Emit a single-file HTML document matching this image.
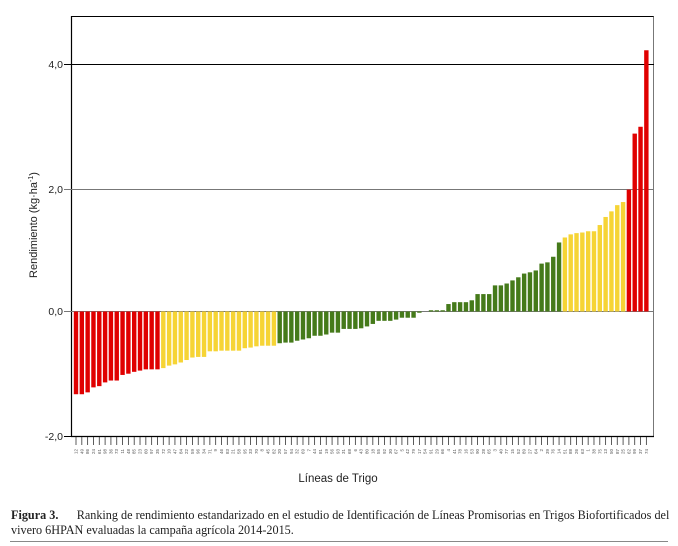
<!DOCTYPE html>
<html><head><meta charset="utf-8"><style>
html,body{margin:0;padding:0;background:#fff;width:678px;height:546px;overflow:hidden}
svg{display:block}
.cap{position:absolute;left:11px;top:508px;width:660px;font-family:"Liberation Serif",serif;font-size:12.2px;line-height:14.5px;color:#222}
</style></head><body>
<svg id="s" width="678" height="546" xmlns="http://www.w3.org/2000/svg" font-family="Liberation Sans, sans-serif">
<rect x="71.5" y="16.5" width="582" height="420" fill="none" stroke="#777" stroke-width="1"/>
<line x1="71.5" y1="16.5" x2="653.5" y2="16.5" stroke="#000"/>
<line x1="71.5" y1="16" x2="71.5" y2="437" stroke="#000" stroke-width="1.2"/>
<line x1="71" y1="436.5" x2="654" y2="436.5" stroke="#000" stroke-width="1.2"/>
<line x1="64" y1="64.5" x2="654" y2="64.5" stroke="#000" stroke-width="1"/>
<line x1="64" y1="189.5" x2="654" y2="189.5" stroke="#777" stroke-width="1"/>
<line x1="64" y1="311.5" x2="654" y2="311.5" stroke="#777" stroke-width="1"/>
<line x1="64" y1="436.5" x2="71" y2="436.5" stroke="#000"/>
<g font-size="10.5" fill="#222" text-anchor="end">
<text x="63" y="68">4,0</text><text x="63" y="193">2,0</text><text x="63" y="315">0,0</text><text x="63" y="440">-2,0</text>
</g>
<text transform="translate(37,225) rotate(-90)" font-size="11" text-anchor="middle" fill="#222">Rendimiento (kg·ha<tspan font-size="7" dy="-4">-1</tspan><tspan dy="4">)</tspan></text>
<text x="338" y="482" font-size="11.5" text-anchor="middle" fill="#222">Líneas de Trigo</text>
<g id="bars"></g>
<line x1="10" y1="541.5" x2="668" y2="541.5" stroke="#888" stroke-width="1"/>
</svg>
<div class="cap"><b>Figura 3.</b>&nbsp;&nbsp;&nbsp;&nbsp;&nbsp;&nbsp;Ranking de rendimiento estandarizado en el estudio de Identificación de Líneas Promisorias en Trigos Biofortificados del vivero 6HPAN evaluadas la campaña agrícola 2014-2015.</div>
<script>
var v=[-1.33,-1.33,-1.30,-1.22,-1.20,-1.14,-1.11,-1.11,-1.02,-1.0,-0.97,-0.95,-0.93,-0.93,-0.93,
0.91,0.87,0.85,0.82,0.78,0.74,0.73,0.73,0.64,0.64,0.63,0.63,0.63,0.63,0.59,0.58,0.56,0.55,0.55,0.55].map(function(x,i){return i<15?x:-x});
var g=[-0.51,-0.50,-0.50,-0.47,-0.45,-0.43,-0.39,-0.39,-0.37,-0.34,-0.34,-0.28,-0.28,-0.28,
-0.27,-0.24,-0.20,-0.15,-0.15,-0.15,-0.13,-0.10,-0.10,-0.10,-0.02,0,0.02,0.02,0.02,0.12,0.15,0.15,0.15,0.18,0.28,0.28,0.28,0.42,0.42,0.45,0.50,0.55,0.61,0.63,0.66,0.77,0.79,0.88,1.11];
var y=[1.19,1.24,1.26,1.27,1.29,1.29,1.39,1.52,1.61,1.71,1.76];
var r=[1.96,2.86,2.97,4.2];
var all=[],col=[];
v.forEach(function(x,i){all.push(x);col.push(i<15?'#e00000':'#f6d435')});
g.forEach(function(x){all.push(x);col.push('#457a1a')});
y.forEach(function(x){all.push(x);col.push('#f6d435')});
r.forEach(function(x){all.push(x);col.push('#e00000')});
var h='',z=311.5,s=62.2,lab=[29,19,10,36,22,32,33,27,6,31,18,25,20,35,23,8,24,38,41,14,30,45,43,21,7,39,12,42,13,9,28,40,26,37,11,44,46,16,49,47,5,15,48,34,17,50,2,3];
for(var i=0;i<all.length;i++){
 var cx=76+5.82*i,x=all[i],hh=Math.abs(x)*s;
 if(hh>0.1)h+='<rect x="'+(cx-2.2).toFixed(2)+'" y="'+(x>0?z-hh:z).toFixed(2)+'" width="4.4" height="'+hh.toFixed(2)+'" fill="'+col[i]+'"/>';
 h+='<line x1="'+cx.toFixed(2)+'" y1="437" x2="'+cx.toFixed(2)+'" y2="445" stroke="#333" stroke-width="0.8"/>';
 h+='<text transform="translate('+(cx+1.5).toFixed(2)+',449) rotate(-90)" font-size="4.5" text-anchor="end" fill="#555">'+((i*37+11)%99+1)+'</text>';
}
document.getElementById('bars').innerHTML=h;
</script>
</body></html>
